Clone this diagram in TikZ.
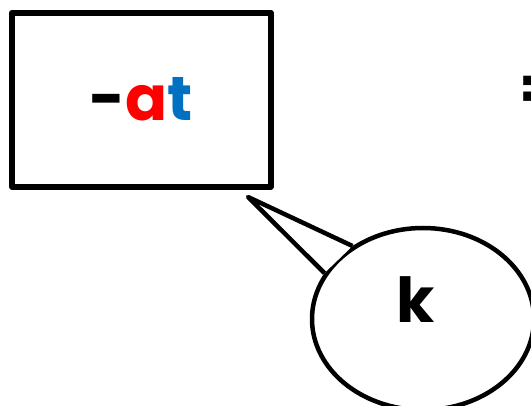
\documentclass[tikz,border=0pt]{standalone}
\usepackage{fontspec}
\setmainfont{Poppins}
\usetikzlibrary{shapes.geometric}
\definecolor{letterred}{RGB}{255,0,0}
\definecolor{letterblue}{RGB}{0,112,192}

\begin{document}
\begin{tikzpicture}
[x=1pt,y=-1pt,
line join=round,
card/.style={rectangle,draw=black,line width=6pt,minimum width=258.5pt,minimum height=174pt,inner sep=0pt},
bubble/.style={ellipse,draw=black,line width=4.5pt,minimum width=222pt,minimum height=182pt,inner sep=0pt},
word/.style={font=\fontsize{62}{62}\selectfont\bfseries,inner sep=0pt}]
\useasboundingbox (0,0) rectangle (531,406);
\node[card,word] (card) at (141.25,99.6) {-\textcolor{letterred}{a}\textcolor{letterblue}{t}};
\node[word,anchor=west] (equals) at (519,93) {=};
\node[bubble] (bubble) at (423,319) {};
\node[word] (k) at (416,300) {k};
\coordinate (tip) at (248,197);
\fill[white] (bubble.134) -- (tip) -- (bubble.155) -- cycle;
\draw[line width=4.5pt] (bubble.134) -- (tip) -- (bubble.155);
\end{tikzpicture}
\end{document}
